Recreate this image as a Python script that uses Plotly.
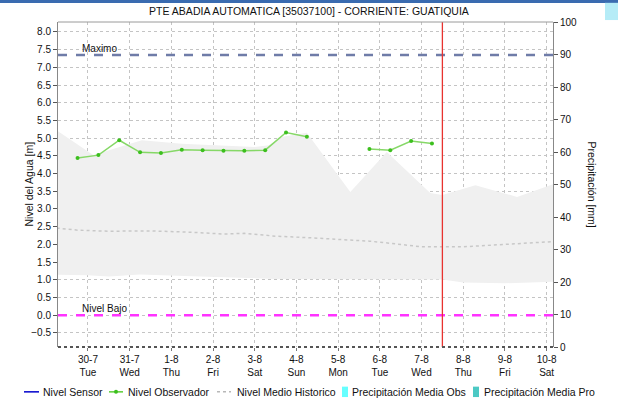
import plotly.graph_objects as go

# ---- station / thresholds -------------------------------------------------
TITLE = "PTE ABADIA AUTOMATICA [35037100] - CORRIENTE: GUATIQUIA"
NIVEL_MAXIMO = 7.35
NIVEL_BAJO = 0.0
NOW = "2019-08-07 12:00"

# ---- observer readings (m), twice a day; None = no reading ----------------
obs_time = [
    "2019-07-29 18:00", "2019-07-30 06:00", "2019-07-30 18:00", "2019-07-31 06:00",
    "2019-07-31 18:00", "2019-08-01 06:00", "2019-08-01 18:00", "2019-08-02 06:00",
    "2019-08-02 18:00", "2019-08-03 06:00", "2019-08-03 18:00", "2019-08-04 06:00",
    "2019-08-04 18:00", "2019-08-05 06:00", "2019-08-05 18:00", "2019-08-06 06:00",
    "2019-08-06 18:00", "2019-08-07 06:00",
]
obs_level = [
    4.44, 4.52, 4.94, 4.60, 4.58, 4.67, 4.66, 4.64, 4.64, 4.66, 5.16, 5.04,
    None, None, 4.69, 4.66, 4.92, 4.85,
]

# ---- historical envelope (m) ---------------------------------------------
hist_max_time = [
    "2019-07-29 06:00", "2019-07-30 03:00", "2019-07-31 07:00", "2019-08-01 06:00",
    "2019-08-03 00:00", "2019-08-03 08:00", "2019-08-03 16:00", "2019-08-04 06:00",
    "2019-08-05 07:00", "2019-08-06 04:00", "2019-08-07 05:00", "2019-08-07 12:00",
    "2019-08-08 07:00", "2019-08-09 07:00", "2019-08-10 08:00",
]
hist_max = [5.22, 4.52, 4.94, 4.84, 4.75, 4.80, 5.04, 5.15, 3.48, 4.61, 3.45,
            3.39, 3.67, 3.34, 3.77]

hist_min_time = [
    "2019-07-29 06:00", "2019-07-30 00:00", "2019-07-30 12:00", "2019-07-31 06:00",
    "2019-08-01 12:00", "2019-08-02 12:00", "2019-08-03 12:00", "2019-08-07 12:00",
    "2019-08-08 00:00", "2019-08-09 00:00", "2019-08-10 08:00",
]
hist_min = [1.14, 1.13, 1.09, 1.15, 1.10, 1.05, 1.02, 1.01, 0.92, 0.90, 0.95]

# ---- historical mean level (m) -------------------------------------------
hist_mean_time = [
    "2019-07-29 06:00", "2019-07-29 18:00", "2019-07-30 12:00", "2019-07-31 12:00",
    "2019-08-01 12:00", "2019-08-02 06:00", "2019-08-02 18:00", "2019-08-03 12:00",
    "2019-08-04 06:00", "2019-08-05 00:00", "2019-08-05 18:00", "2019-08-06 06:00",
    "2019-08-07 00:00", "2019-08-08 00:00", "2019-08-08 18:00", "2019-08-09 12:00",
    "2019-08-10 08:00",
]
hist_mean = [2.46, 2.40, 2.37, 2.38, 2.34, 2.29, 2.31, 2.23, 2.19, 2.14, 2.09,
             2.03, 1.93, 1.93, 1.98, 2.02, 2.09]

# ---- x axis ticks ---------------------------------------------------------
tick_dates = ["2019-07-30", "2019-07-31", "2019-08-01", "2019-08-02", "2019-08-03",
              "2019-08-04", "2019-08-05", "2019-08-06", "2019-08-07", "2019-08-08",
              "2019-08-09", "2019-08-10"]
tick_day = ["30-7", "31-7", "1-8", "2-8", "3-8", "4-8", "5-8", "6-8", "7-8", "8-8",
            "9-8", "10-8"]
tick_wday = ["Tue", "Wed", "Thu", "Fri", "Sat", "Sun", "Mon", "Tue", "Wed", "Thu",
             "Fri", "Sat"]
X_RANGE = ["2019-07-29 06:45", "2019-08-10 03:40"]

FONT = "Liberation Sans, Arial, sans-serif"
GRID = "#c4c4c4"

fig = go.Figure()

# historical envelope (light grey band)
fig.add_trace(go.Scatter(x=hist_min_time, y=hist_min, mode="lines",
                         line=dict(width=0, color="rgba(0,0,0,0)"),
                         hoverinfo="skip", showlegend=False))
fig.add_trace(go.Scatter(x=hist_max_time, y=hist_max, mode="lines",
                         line=dict(width=0, color="rgba(0,0,0,0)"),
                         fill="tonexty", fillcolor="#f0f0f0",
                         hoverinfo="skip", showlegend=False))

# historical mean
fig.add_trace(go.Scatter(x=hist_mean_time, y=hist_mean, mode="lines",
                         name="Nivel Medio Historico",
                         line=dict(color="#c8c8c8", width=1.5, dash="dot"),
                         showlegend=False))

# observer readings
fig.add_trace(go.Scatter(x=obs_time, y=obs_level, mode="lines+markers",
                         name="Nivel Observador", connectgaps=False,
                         line=dict(color="#86d867", width=1.5),
                         marker=dict(color="#3cbf1e", size=4),
                         showlegend=False))

# precipitation axis carrier (no precipitation records in the window)
fig.add_trace(go.Bar(x=[tick_dates[0]], y=[None], yaxis="y2",
                     name="Precipitación Media Obs", marker_color="#66ffff",
                     showlegend=False))

# thresholds
fig.add_hline(y=NIVEL_MAXIMO, line=dict(color="#6f7ca8", width=2.5, dash="dash"))
fig.add_hline(y=NIVEL_BAJO, line=dict(color="#ff33ff", width=2.5, dash="dash"))
fig.add_annotation(x=0.044, xref="paper", y=NIVEL_MAXIMO, yref="y", text="Maximo",
                   showarrow=False, xanchor="left", yanchor="bottom", yshift=-1,
                   font=dict(size=10, color="#111", family=FONT))
fig.add_annotation(x=0.044, xref="paper", y=NIVEL_BAJO, yref="y", text="Nivel Bajo",
                   showarrow=False, xanchor="left", yanchor="bottom", yshift=-1,
                   font=dict(size=10, color="#111", family=FONT))

# current time marker
fig.add_vline(x=NOW, line=dict(color="#e8332f", width=1.3))

# plot frame: top grey line, dotted dark bottom
fig.add_shape(type="line", xref="paper", yref="paper", x0=0, x1=1, y0=1, y1=1,
              line=dict(color="#9a9a9a", width=1))
fig.add_shape(type="line", xref="paper", yref="paper", x0=0, x1=1, y0=0, y1=0,
              line=dict(color="#555555", width=2, dash="dot"))

# window chrome along the top edge
fig.add_shape(type="rect", xref="paper", yref="paper", x0=-0.12, x1=1.14,
              y0=1.0585, y1=1.07, line=dict(width=0), fillcolor="#3a6bb0", layer="above")
fig.add_shape(type="rect", xref="paper", yref="paper", x0=1.105, x1=1.14,
              y0=1.006, y1=1.059, line=dict(width=0), fillcolor="#b5ecf7", layer="above")

# axis titles
fig.add_annotation(x=-0.0606, xref="paper", y=0.5, yref="paper",
                   xanchor="center", yanchor="middle",
                   text="Nivel del Agua [m]", textangle=-90, showarrow=False,
                   font=dict(size=10.5, color="#111", family=FONT))
fig.add_annotation(x=1.079, xref="paper", y=0.5, yref="paper",
                   xanchor="center", yanchor="middle",
                   text="Precipitación [mm]", textangle=90, showarrow=False,
                   font=dict(size=10.5, color="#111", family=FONT))

# legend row along the bottom
LEG_Y = -0.138
def px(xpix):
    return (xpix - 58) / 495.0

legend_items = [
    ("line", "#0000cc", "solid", 24, 39, 41, "Nivel Sensor"),
    ("marker", "#5ccf35", "solid", 109, 123, 126, "Nivel Observador"),
    ("line", "#b8b8b8", "dot", 217, 231, 235, "Nivel Medio Historico"),
    ("box", "#66ffff", None, 342, 348, 350, "Precipitación Media Obs"),
    ("box", "#4cc9c4", None, 473, 479, 482, "Precipitación Media Pro"),
]
for kind, color, dash, x0, x1, xt, label in legend_items:
    if kind == "box":
        fig.add_shape(type="rect", xref="paper", yref="paper", x0=px(x0), x1=px(x1),
                      y0=LEG_Y - 0.016, y1=LEG_Y + 0.016,
                      line=dict(width=0), fillcolor=color)
    else:
        fig.add_shape(type="line", xref="paper", yref="paper", x0=px(x0), x1=px(x1),
                      y0=LEG_Y, y1=LEG_Y, line=dict(color=color, width=1.5, dash=dash))
        if kind == "marker":
            cx = px((x0 + x1) / 2)
            fig.add_shape(type="circle", xref="paper", yref="paper",
                          x0=cx - 2 / 495, x1=cx + 2 / 495,
                          y0=LEG_Y - 2 / 325, y1=LEG_Y + 2 / 325,
                          line=dict(width=0), fillcolor="#3cbf1e")
    fig.add_annotation(x=px(xt), xref="paper", y=LEG_Y, yref="paper", text=label,
                       showarrow=False, xanchor="left", yanchor="middle",
                       font=dict(size=10.5, color="#111", family=FONT))

fig.update_layout(
    width=618, height=400,
    margin=dict(l=58, r=65, t=22, b=53),
    paper_bgcolor="white", plot_bgcolor="white",
    font=dict(family=FONT, size=10, color="#111"),
    title=dict(text=TITLE, x=0.5, xref="container", y=1 - 11 / 400, yref="container",
               xanchor="center", yanchor="middle",
               font=dict(size=10.5, color="#111", family=FONT)),
    showlegend=False,
    xaxis=dict(type="date", range=X_RANGE, tickvals=tick_dates,
               ticktext=[f"{d}<br>{w}" for d, w in zip(tick_day, tick_wday)],
               showgrid=True, gridcolor=GRID, griddash="dot", gridwidth=1,
               ticks="outside", ticklen=3, tickcolor="#777",
               showline=False, zeroline=False, tickfont=dict(size=10)),
    yaxis=dict(range=[-0.9, 8.28], tickvals=[i * 0.5 for i in range(-1, 17)],
               tickformat=".1f", showgrid=True, gridcolor=GRID, griddash="dot",
               gridwidth=1, ticks="outside", ticklen=4, tickcolor="#555",
               showline=True, linecolor="#888", linewidth=1, zeroline=False,
               tickfont=dict(size=10)),
    yaxis2=dict(range=[0, 100], dtick=10, overlaying="y", side="right",
                showgrid=False, ticks="outside", ticklen=4, tickcolor="#555",
                showline=True, linecolor="#888", linewidth=1, zeroline=False,
                tickfont=dict(size=10)),
)

fig.write_html("out.html")
